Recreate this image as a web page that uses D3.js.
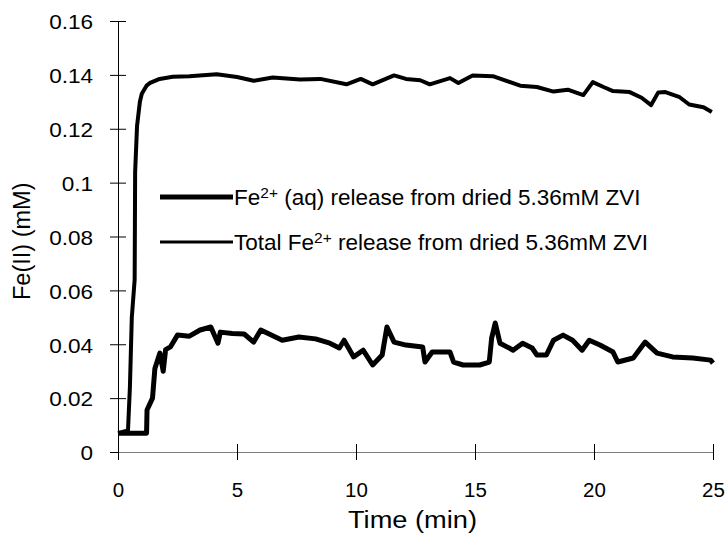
<!DOCTYPE html>
<html>
<head>
<meta charset="utf-8">
<script src="https://cdn.jsdelivr.net/npm/d3@7"></script>
<style>
  body { margin: 0; background: #fff; }
  text { font-family: "Liberation Sans", Arial, sans-serif; fill: #000; }
</style>
</head>
<body>
<script>
// Total Fe2+ (upper curve)
var totalTime = [0, 0.42, 0.5, 0.58, 0.7, 0.72, 0.8, 0.92, 1.0, 1.2, 1.35, 1.75, 2.3, 3, 4.15, 5, 5.7, 6.5, 7.65, 8.5, 9.6, 10.2, 10.7, 11.6, 12.1, 12.7, 13.1, 13.95, 14.3, 14.9, 15.75, 16.9, 17.6, 18.3, 18.9, 19.55, 19.95, 20.4, 20.8, 21.5, 22.0, 22.4, 22.7, 23.0, 23.6, 24.0, 24.6, 24.95];
var totalFe = [0.007, 0.008, 0.024, 0.05, 0.064, 0.104, 0.121, 0.13, 0.133, 0.136, 0.137, 0.1385, 0.1393, 0.1395, 0.1402, 0.1392, 0.1378, 0.139, 0.1383, 0.1385, 0.1365, 0.1385, 0.1365, 0.1398, 0.1385, 0.138, 0.1365, 0.1388, 0.137, 0.1398, 0.1395, 0.136, 0.1355, 0.1338, 0.1345, 0.1325, 0.1373, 0.1355, 0.134, 0.1336, 0.1315, 0.1288, 0.1335, 0.1336, 0.1317, 0.129, 0.128, 0.1262];

// Fe2+ (aq) (lower curve)
var aqTime = [0, 1.2, 1.22, 1.45, 1.55, 1.76, 1.9, 2.0, 2.2, 2.5, 3.0, 3.45, 3.9, 4.2, 4.3, 4.8, 5.3, 5.7, 6.0, 6.9, 7.6, 8.3, 8.9, 9.3, 9.5, 9.9, 10.3, 10.7, 11.1, 11.3, 11.6, 12.1, 12.8, 12.9, 13.2, 13.95, 14.1, 14.5, 15.2, 15.6, 15.7, 15.85, 16.05, 16.6, 17.0, 17.4, 17.6, 18.0, 18.3, 18.7, 19.1, 19.5, 19.8, 20.25, 20.8, 21.0, 21.65, 22.15, 22.65, 23.3, 24.15, 24.9, 25.0];
var aqFe = [0.007, 0.007, 0.0156, 0.02, 0.031, 0.0367, 0.030, 0.038, 0.039, 0.0434, 0.043, 0.0453, 0.0464, 0.0404, 0.0445, 0.044, 0.0438, 0.0408, 0.0453, 0.0415, 0.0427, 0.042, 0.0404, 0.0386, 0.0415, 0.0353, 0.0378, 0.0323, 0.036, 0.0464, 0.0408, 0.0397, 0.039, 0.0334, 0.0371, 0.0371, 0.0334, 0.0323, 0.0323, 0.0334, 0.0423, 0.0479, 0.0404, 0.0378, 0.0404, 0.0386, 0.036, 0.036, 0.0415, 0.0434, 0.0415, 0.0378, 0.0415, 0.0397, 0.0371, 0.0334, 0.0349, 0.0408, 0.0367, 0.0353, 0.0349, 0.0341, 0.033];

var xTicks = [0, 5, 10, 15, 20, 25];
var yTicks = [0, 0.02, 0.04, 0.06, 0.08, 0.1, 0.12, 0.14, 0.16];

var width = 727, height = 537;

var svg = d3.select("body").append("svg")
    .attr("width", width)
    .attr("height", height);

var x = d3.scaleLinear().domain([0, 25]).range([118, 713]);
var y = d3.scaleLinear().domain([0, 0.16]).range([452, 21]);

// y axis
var yAxis = svg.append("g")
    .attr("transform", "translate(118,0)")
    .call(d3.axisLeft(y).tickValues(yTicks).tickSize(8).tickSizeOuter(0)
        .tickFormat(function (d) { return String(+d.toFixed(2)); }));
yAxis.select(".domain").attr("stroke", "#000");
yAxis.selectAll(".tick line").attr("x1", 8).attr("x2", -8).attr("stroke", "#000");
yAxis.selectAll(".tick text")
    .attr("x", 0)
    .attr("dy", "0.38em")
    .attr("transform", "translate(-25,0) scale(1.1,1)")
    .attr("font-size", 20.5)
    .attr("font-family", "Liberation Sans, Arial, sans-serif");

// x axis
var xAxis = svg.append("g")
    .attr("transform", "translate(0,452)")
    .call(d3.axisBottom(x).tickValues(xTicks).tickSize(8).tickSizeOuter(0));
xAxis.select(".domain").attr("stroke", "#808080");
xAxis.selectAll(".tick line").attr("y1", -8).attr("y2", 8).attr("stroke", "#000");
xAxis.selectAll(".tick text")
    .attr("y", 45)
    .attr("dy", 0)
    .attr("font-size", 20.5)
    .attr("font-family", "Liberation Sans, Arial, sans-serif");

// axis titles
svg.append("text")
    .attr("x", 348).attr("y", 528)
    .attr("textLength", 129)
    .attr("lengthAdjust", "spacingAndGlyphs")
    .attr("font-size", 23.5)
    .text("Time (min)");

svg.append("text")
    .attr("transform", "translate(30,300) rotate(-90)")
    .attr("font-size", 23.5)
    .text("Fe(II) (mM)");

var line = d3.line()
    .x(function (d) { return x(d[0]); })
    .y(function (d) { return y(d[1]); });

svg.append("path")
    .datum(d3.zip(totalTime, totalFe))
    .attr("fill", "none")
    .attr("stroke", "#000")
    .attr("stroke-width", 4)
    .attr("stroke-linejoin", "round")
    .attr("d", line);

svg.append("path")
    .datum(d3.zip(aqTime, aqFe))
    .attr("fill", "none")
    .attr("stroke", "#000")
    .attr("stroke-width", 5)
    .attr("stroke-linejoin", "round")
    .attr("d", line);

// legend
var legend = [
    { y: 197, w: 5, pre: "Fe", post: " (aq) release from dried 5.36mM ZVI" },
    { y: 242, w: 3, pre: "Total Fe", post: " release from dried 5.36mM ZVI" }
];
var lg = svg.selectAll(".leg").data(legend).enter().append("g").attr("class", "leg");
lg.append("line")
    .attr("x1", 160).attr("x2", 233)
    .attr("y1", function (d) { return d.y; })
    .attr("y2", function (d) { return d.y; })
    .attr("stroke", "#000")
    .attr("stroke-width", function (d) { return d.w; });
var lt = lg.append("text")
    .attr("x", 234)
    .attr("y", function (d) { return d.y + 8; })
    .attr("font-size", 22.5);
lt.append("tspan").text(function (d) { return d.pre; });
lt.append("tspan").attr("dy", -7).attr("font-size", 15.5).text("2+");
lt.append("tspan").attr("dy", 7).text(function (d) { return d.post; });
</script>
</body>
</html>
